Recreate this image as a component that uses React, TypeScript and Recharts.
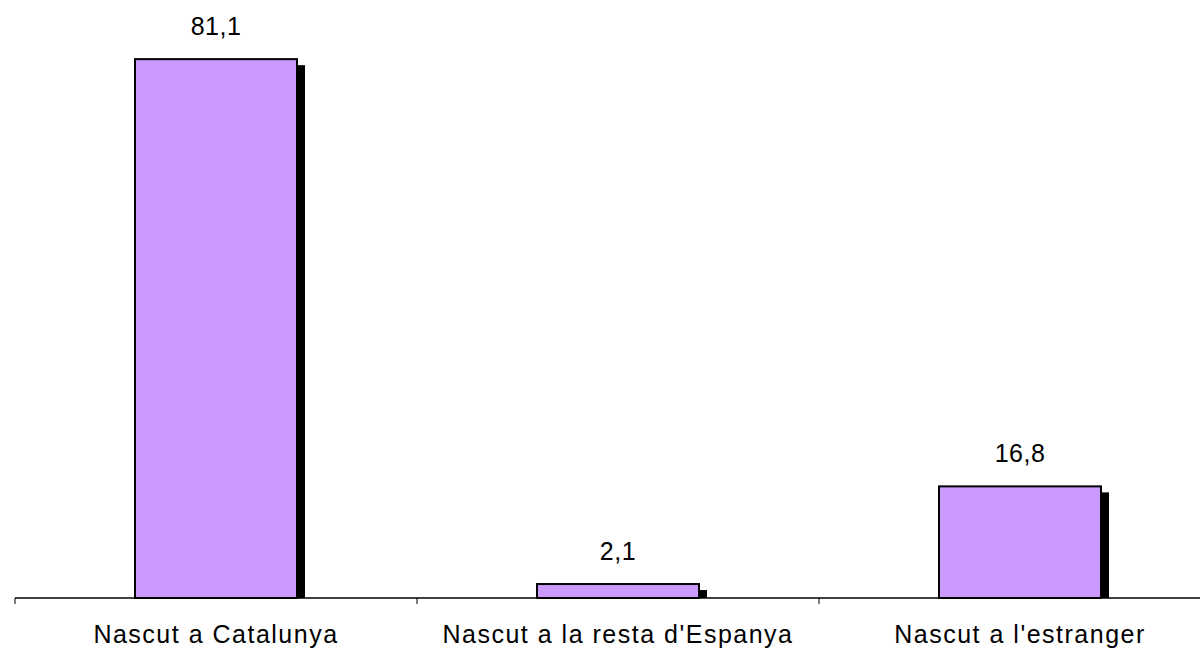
import { BarChart, Bar, XAxis, YAxis, LabelList } from 'recharts';

const categories = ['Nascut a Catalunya', "Nascut a la resta d'Espanya", "Nascut a l'estranger"];
const values = [81.1, 2.1, 16.8];
const labels = ['81,1', '2,1', '16,8'];

const data = categories.map((name, i) => ({ name, value: values[i], label: labels[i] }));

const FONT = '"Liberation Sans", Arial, sans-serif';
const HALF_BAND = 201;

// bar with black drop shadow like the old Excel chart
function ShadowBar(props: any) {
  const { x, y, width, height } = props;
  return (
    <g>
      <rect x={x + 8} y={y + 6} width={width} height={Math.max(height - 6, 0)} fill="#000" />
      <rect x={x} y={y} width={width} height={height} fill="#CC99FF" stroke="#000" strokeWidth={2} />
    </g>
  );
}

function CatTick(props: any) {
  const { x, y, payload, index } = props;
  const axisY = y - 8;
  return (
    <g>
      <line x1={x - HALF_BAND} y1={axisY} x2={x - HALF_BAND} y2={axisY + 6} stroke="#000" />
      {index === categories.length - 1 && (
        <line x1={x + HALF_BAND} y1={axisY} x2={x + HALF_BAND} y2={axisY + 6} stroke="#000" />
      )}
      <text x={x} y={axisY + 45} textAnchor="middle" fontFamily={FONT} fontSize={25} letterSpacing={1.5} fill="#000">
        {payload.value}
      </text>
    </g>
  );
}

function ValueLabel(props: any) {
  const { x, y, width, value } = props;
  return (
    <text x={x + width / 2} y={y - 24} textAnchor="middle" fontFamily={FONT} fontSize={25} letterSpacing={0.5} fill="#000">
      {value}
    </text>
  );
}

export default function App() {
  return (
    <div style={{ position: 'absolute', left: 0, top: 0, width: 1200, height: 651, overflow: 'hidden', background: '#fff' }}>
      <BarChart width={1230} height={651} data={data} margin={{ top: 0, right: 9, left: 15, bottom: 0 }} barSize={162}>
        <XAxis
          dataKey="name"
          height={53}
          axisLine={{ stroke: '#000', strokeWidth: 1.5 }}
          tickLine={false}
          tick={<CatTick />}
          interval={0}
        />
        <YAxis hide domain={[0, 90]} />
        <Bar dataKey="value" shape={<ShadowBar />} isAnimationActive={false}>
          <LabelList dataKey="label" content={<ValueLabel />} />
        </Bar>
      </BarChart>
    </div>
  );
}
